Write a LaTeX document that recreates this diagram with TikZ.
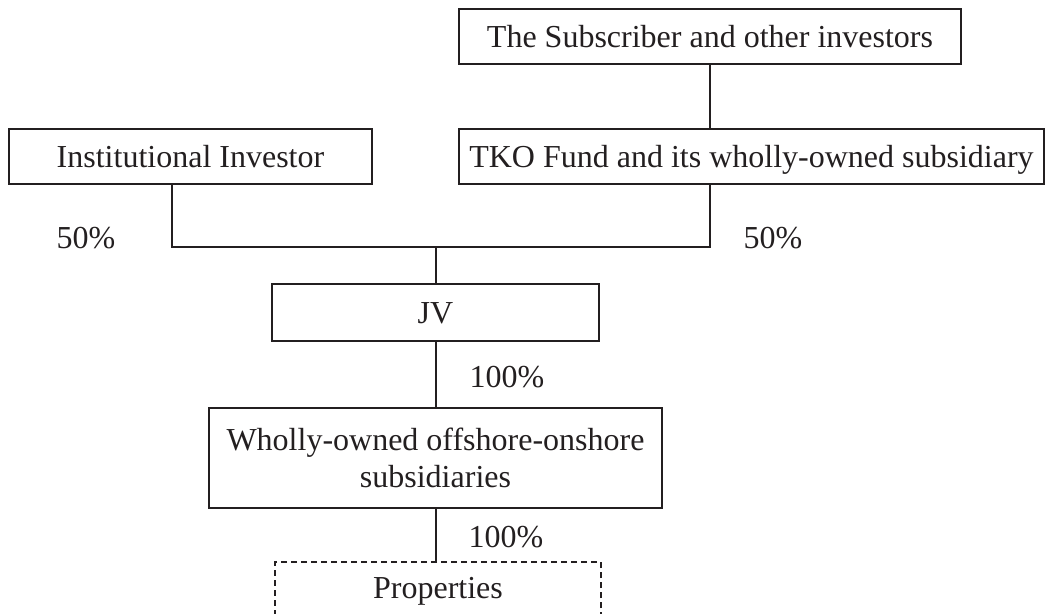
\documentclass[tikz,border=0pt]{standalone}
\usepackage{fontspec}
\setmainfont{Liberation Serif}
\usepackage{tikz}
\usetikzlibrary{positioning}
\definecolor{InkDark}{RGB}{35,31,32}

\begin{document}
\begin{tikzpicture}[x=1pt, y=-1pt, line width=1.1pt, draw=InkDark,
  box/.style={draw=InkDark, rectangle, inner sep=0pt, align=center, text=InkDark, font=\fontsize{32}{37}\selectfont},
  onebox/.style={box, text height=21pt, text depth=0pt},
  pct/.style={inner sep=0pt, text=InkDark, font=\fontsize{32}{37}\selectfont}]
  \clip (0,0) rectangle (1046,613);
  % owners
  \node[onebox, minimum width=502pt, minimum height=55pt] (subscr) at (710,36.5) {The Subscriber and other investors};
  \node[onebox, minimum width=585pt, minimum height=55pt] (tko) at (751.5,156.5) {TKO Fund and its wholly-owned subsidiary};
  \node[onebox, minimum width=363pt, minimum height=55pt] (inst) at (190.5,156.5) {Institutional Investor};
  % holding chain
  \node[onebox, minimum width=327pt, minimum height=57pt] (jv) at (435.5,312.5) {JV};
  \node[box, minimum width=453pt, minimum height=100pt] (offon) at (435.5,458) {Wholly-owned offshore-onshore\\subsidiaries};
  \node[onebox, text depth=9pt, dashed, dash pattern=on 6pt off 4pt, minimum width=326pt, minimum height=60pt] (props) at (438,592) {Properties};
  % percentages
  \node[pct] (pctinst) at (86,238) {50\%};
  \node[pct] (pcttko) at (773,238) {50\%};
  \node[pct] (pctjv) at (507,377) {100\%};
  \node[pct] (pctoff) at (506,537) {100\%};
  % connectors
  \coordinate (lft) at (172,247);
  \coordinate (rgt) at (710,247);
  \coordinate (mid) at (436,247);
  \draw (subscr.south -| rgt) -- (tko.north -| rgt);
  \draw (inst.south -| lft) -- (lft) -- (rgt) -- (tko.south -| rgt);
  \draw (mid) -- (jv.north -| mid);
  \draw (jv.south -| mid) -- (offon.north -| mid);
  \draw (offon.south -| mid) -- (props.north -| mid);
\end{tikzpicture}
\end{document}
